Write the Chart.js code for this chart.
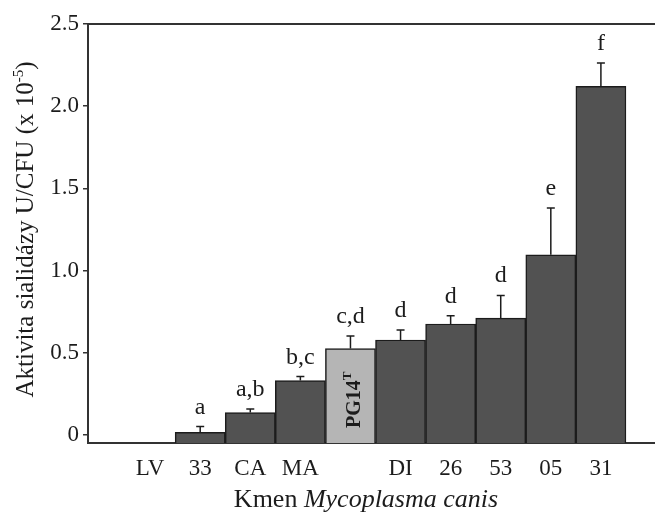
<!DOCTYPE html>
<html>
<head>
<meta charset="utf-8">
<script src="https://cdn.jsdelivr.net/npm/chart.js@4/dist/chart.umd.min.js"></script>
<style>
  body { margin: 0; background: #fff; }
  #wrap { width: 655px; height: 513px; }
</style>
</head>
<body>
<div id="wrap"><canvas id="sialidase"></canvas></div>
<script>
// strains of Mycoplasma canis, PG14T is the type strain (label drawn inside bar)
var strains = ['LV', '33', 'CA', 'MA', 'PG14T', 'DI', '26', '53', '05', '31'];
var activity = [null, 0.015, 0.135, 0.33, 0.525, 0.577, 0.674, 0.71, 1.095, 2.12];
var errUp = [null, 0.035, 0.022, 0.024, 0.076, 0.06, 0.05, 0.138, 0.285, 0.142];
var groups = ['', 'a', 'a,b', 'b,c', 'c,d', 'd', 'd', 'd', 'e', 'f'];
var yTicks = [0, 0.5, 1.0, 1.5, 2.0, 2.5];

var serif = '"Liberation Serif", "Times New Roman", serif';
var ink = '#1c1c1c';

var points = strains.map(function (s, i) {
    return { x: i, y: activity[i] };
});
var fills = strains.map(function (s) {
    return s === 'PG14T' ? '#b5b5b5' : '#525252';
});

// error bars, significance letters, PG14T label, frame top and axis titles
var extras = {
    id: 'extras',
    afterDatasetsDraw: function (chart) {
        var ctx = chart.ctx;
        var yScale = chart.scales.y;
        var meta = chart.getDatasetMeta(0);
        ctx.save();
        meta.data.forEach(function (bar, i) {
            if (activity[i] === null) return;
            var top = yScale.getPixelForValue(activity[i] + errUp[i]);
            ctx.strokeStyle = ink;
            ctx.lineWidth = 1.5;
            ctx.beginPath();
            ctx.moveTo(bar.x, bar.y);
            ctx.lineTo(bar.x, top);
            ctx.moveTo(bar.x - 4, top);
            ctx.lineTo(bar.x + 4, top);
            ctx.stroke();

            ctx.fillStyle = ink;
            ctx.font = '24px ' + serif;
            ctx.textAlign = 'center';
            ctx.textBaseline = 'alphabetic';
            ctx.fillText(groups[i], bar.x, top - 13);

            if (strains[i] === 'PG14T') {
                ctx.save();
                ctx.translate(bar.x + 10, (bar.y + bar.base) / 2 + 4);
                ctx.rotate(-Math.PI / 2);
                ctx.font = 'bold 20px ' + serif;
                ctx.textAlign = 'left';
                var w = ctx.measureText('PG14').width;
                ctx.font = 'bold 13px ' + serif;
                var wt = ctx.measureText('T').width;
                var start = -(w + wt) / 2;
                ctx.font = 'bold 20px ' + serif;
                ctx.fillText('PG14', start, 0);
                ctx.font = 'bold 13px ' + serif;
                ctx.fillText('T', start + w, -9);
                ctx.restore();
            }
        });

        var area = chart.chartArea;
        ctx.strokeStyle = '#333';
        ctx.lineWidth = 2;
        ctx.beginPath();
        ctx.moveTo(area.left, area.top);
        ctx.lineTo(area.right, area.top);
        ctx.stroke();

        // x title with italic species name
        ctx.fillStyle = ink;
        ctx.textBaseline = 'alphabetic';
        ctx.textAlign = 'left';
        var a = 'Kmen ';
        var b = 'Mycoplasma canis';
        ctx.font = '26px ' + serif;
        var wa = ctx.measureText(a).width;
        ctx.font = 'italic 26px ' + serif;
        var wb = ctx.measureText(b).width;
        var x0 = 366 - (wa + wb) / 2;
        ctx.font = '26px ' + serif;
        ctx.fillText(a, x0, 507);
        ctx.font = 'italic 26px ' + serif;
        ctx.fillText(b, x0 + wa, 507);

        // y title with superscript
        ctx.save();
        ctx.translate(33, (area.top + area.bottom) / 2 - 4);
        ctx.rotate(-Math.PI / 2);
        var t1 = 'Aktivita sialidázy U/CFU (x 10';
        ctx.font = '25px ' + serif;
        var w1 = ctx.measureText(t1).width;
        ctx.font = '15px ' + serif;
        var w2 = ctx.measureText('-5').width;
        ctx.font = '25px ' + serif;
        var w3 = ctx.measureText(')').width;
        var s = -(w1 + w2 + w3) / 2;
        ctx.fillText(t1, s, 0);
        ctx.font = '15px ' + serif;
        ctx.fillText('-5', s + w1, -10);
        ctx.font = '25px ' + serif;
        ctx.fillText(')', s + w1 + w2, 0);
        ctx.restore();
        ctx.restore();
    }
};

new Chart(document.getElementById('sialidase'), {
    type: 'bar',
    data: {
        datasets: [{
            data: points,
            base: -0.05,
            backgroundColor: fills,
            borderColor: ink,
            borderWidth: 1.5,
            borderSkipped: 'bottom',
            barPercentage: 1,
            categoryPercentage: 1
        }]
    },
    options: {
        responsive: true,
        maintainAspectRatio: false,
        animation: false,
        layout: { padding: { top: 24, right: 0, left: 0, bottom: 0 } },
        plugins: { legend: { display: false }, tooltip: { enabled: false } },
        scales: {
            x: {
                type: 'linear',
                offset: false,
                min: -1.24,
                max: 10.08,
                afterBuildTicks: function (axis) {
                    axis.ticks = strains.map(function (s, i) { return { value: i }; });
                },
                afterFit: function (axis) { axis.height = 70; },
                ticks: {
                    autoSkip: false,
                    maxRotation: 0,
                    padding: 12,
                    color: ink,
                    font: { family: serif, size: 23 },
                    callback: function (v) {
                        var s = strains[v];
                        return s === 'PG14T' ? '' : s;
                    }
                },
                grid: { drawOnChartArea: false, drawTicks: false },
                border: { display: true, color: '#333', width: 2 }
            },
            y: {
                min: -0.05,
                max: 2.5,
                afterBuildTicks: function (axis) {
                    axis.ticks = yTicks.map(function (v) { return { value: v }; });
                },
                afterFit: function (axis) { axis.width = 88; },
                ticks: {
                    padding: 4,
                    color: ink,
                    font: { family: serif, size: 23 },
                    callback: function (v) { return v === 0 ? '0' : v.toFixed(1); }
                },
                grid: { drawOnChartArea: false, drawTicks: true, tickLength: 5, color: '#333', lineWidth: 1.5 },
                border: { display: true, color: '#333', width: 2 }
            }
        }
    },
    plugins: [extras]
});
</script>
</body>
</html>
